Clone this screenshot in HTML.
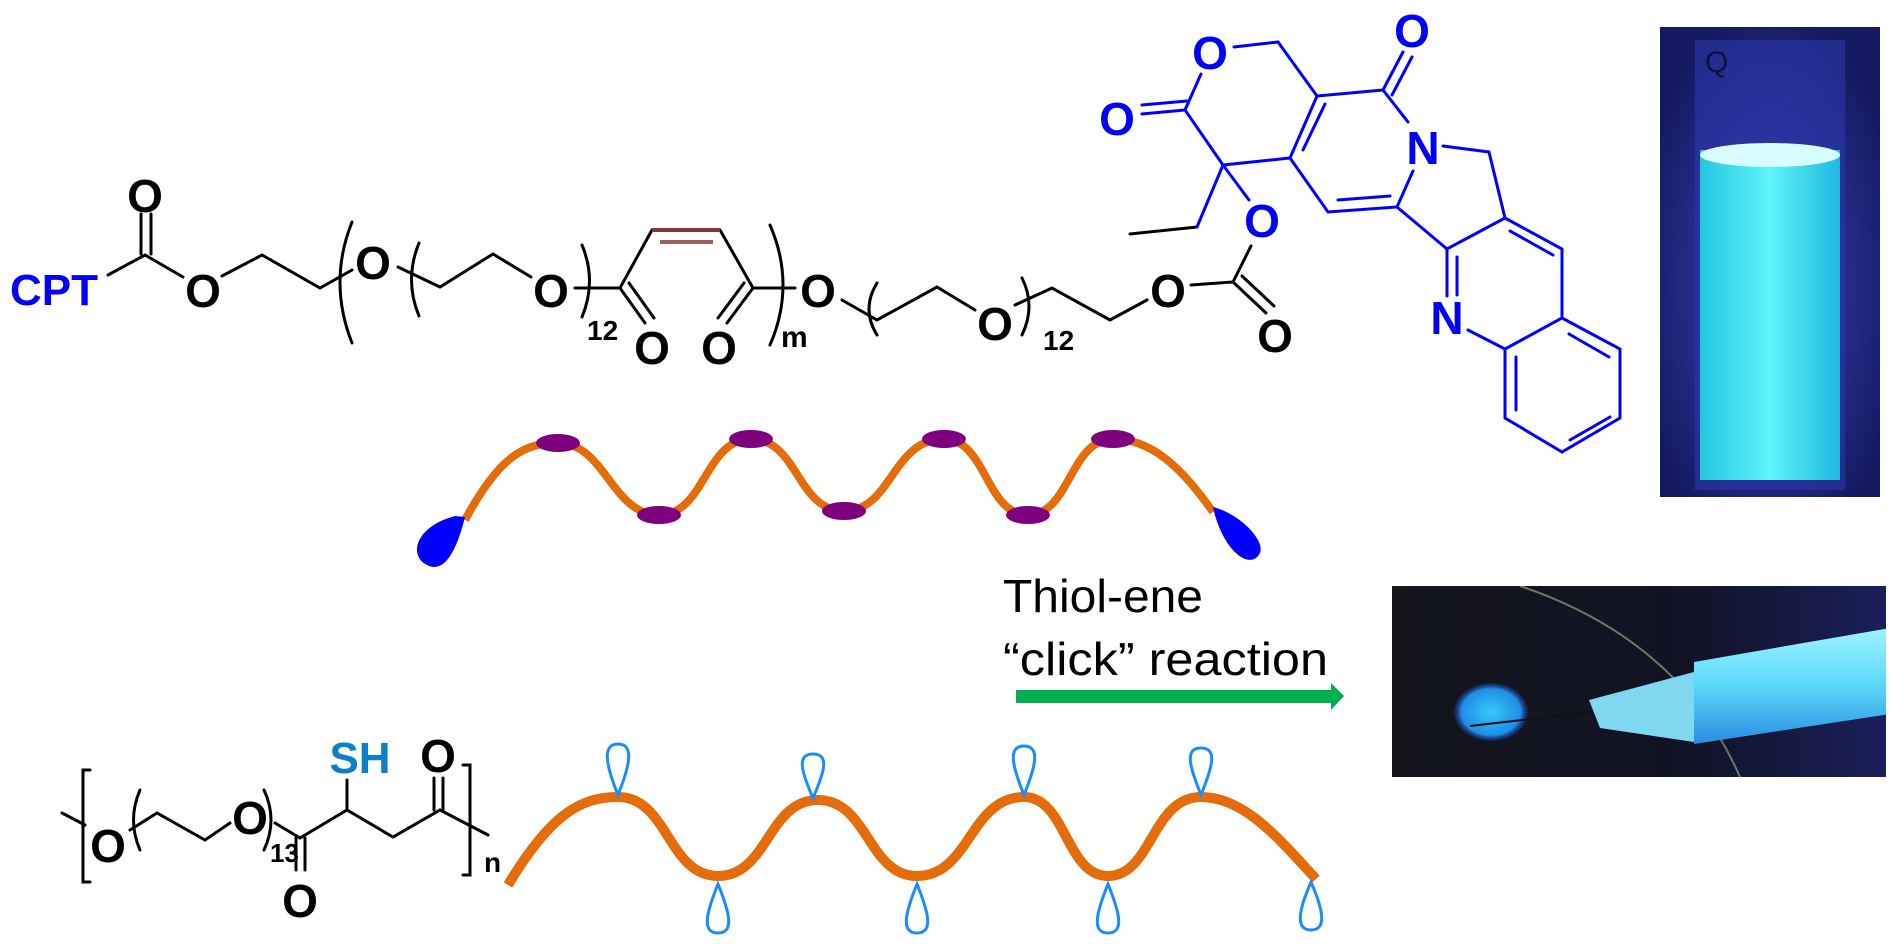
<!DOCTYPE html>
<html><head><meta charset="utf-8"><style>
html,body{margin:0;padding:0;background:#fff;}
svg{display:block}
text{font-family:"Liberation Sans",Arial,sans-serif;}
.b{font-weight:bold}
</style></head><body>
<svg width="1890" height="944" viewBox="0 0 1890 944" xmlns="http://www.w3.org/2000/svg">
<defs>
<radialGradient id="cuv" cx="50%" cy="55%" r="60%"><stop offset="0" stop-color="#3a46c8"/><stop offset="1" stop-color="#141a60"/></radialGradient>
<linearGradient id="liq" x1="0" y1="0" x2="1" y2="0"><stop offset="0" stop-color="#22c8e0"/><stop offset="0.5" stop-color="#5ff4f8"/><stop offset="1" stop-color="#20b8e0"/></linearGradient>
<linearGradient id="ph2" x1="0" y1="0" x2="1" y2="0"><stop offset="0" stop-color="#15161c"/><stop offset="0.6" stop-color="#111326"/><stop offset="1" stop-color="#1a1f5c"/></linearGradient>
<radialGradient id="spot" cx="50%" cy="50%" r="50%"><stop offset="0" stop-color="#38c8f8"/><stop offset="0.8" stop-color="#1e8ee8"/><stop offset="1" stop-color="#1a3aa0" stop-opacity="0.3"/></radialGradient>
<linearGradient id="syr" x1="0" y1="0" x2="0" y2="1"><stop offset="0" stop-color="#9ef4ff"/><stop offset="0.5" stop-color="#5ad8f8"/><stop offset="1" stop-color="#2a8ce0"/></linearGradient>
<clipPath id="pc"><rect x="1392" y="586" width="494" height="191"/></clipPath>
</defs>

<!-- ===== top chain ===== -->
<g stroke="#000" stroke-width="3" fill="none" stroke-linecap="round">
<path d="M108,275 L145,255 L183,277"/>
<path d="M141,254 L141,214 M151,254 L151,214"/>
<path d="M222,276 L262,255 L320,288 L352,270"/>
<path d="M352,222 Q328,282 352,343"/>
<path d="M419,243 Q404,280 419,316"/>
<path d="M398,267 L440,287 L493,254 L531,277"/>
<path d="M582,245 Q597,281 582,317"/>
<path d="M575,288 L620,288 L652,230"/>
<path d="M620,288 L645,323 M629,283 L654,318"/>
<path d="M720,230 L753,288 L795,288"/>
<path d="M753,288 L727,323 M744,283 L718,318"/>
<path d="M770,225 Q796,285 770,345"/>
<path d="M842,300 L877,320 L937,287 L975,310"/>
<path d="M877,283 Q861,309 877,335"/>
<path d="M1022,278 Q1036,306 1022,335"/>
<path d="M1015,305 L1052,288 L1110,320 L1147,300"/>
<path d="M1191,285 L1233,282 L1251,246"/>
<path d="M1233,282 L1266,313 M1242,276 L1274,306"/>
<path d="M1197,227 L1130,234"/>
</g>
<path d="M652,230 L720,230" stroke="#7f3838" stroke-width="4"/>
<path d="M660,242 L713,242" stroke="#a06060" stroke-width="4"/>
<g class="b" font-size="46" text-anchor="middle" fill="#000">
<text x="145" y="212">O</text>
<text x="203" y="307">O</text>
<text x="373" y="279">O</text>
<text x="551" y="307">O</text>
<text x="652" y="364">O</text>
<text x="719" y="364">O</text>
<text x="818" y="307">O</text>
<text x="995" y="340">O</text>
<text x="1168" y="307">O</text>
<text x="1275" y="352">O</text>
</g>
<text x="10" y="305" class="b" font-size="44" fill="#0000ff">CPT</text>
<text x="587" y="340" class="b" font-size="28">12</text>
<text x="1043" y="350" class="b" font-size="28">12</text>
<text x="781" y="347" class="b" font-size="30">m</text>

<!-- ===== CPT blue ===== -->
<g stroke="#0000ff" stroke-width="3" fill="none" stroke-linecap="round">
<path d="M1234,47 L1278,42 L1317,96"/>
<path d="M1201,74 L1185,110 L1223,165 L1290,158 L1317,96 L1383,90"/>
<path d="M1303,150 L1325,104"/>
<path d="M1185,110 L1142,114 M1187,101 L1142,105"/>
<path d="M1223,165 L1249,200"/>
<path d="M1223,165 L1197,227"/>
<path d="M1383,90 L1403,52 M1392,95 L1412,57"/>
<path d="M1383,90 L1408,122"/>
<path d="M1443,146 L1489,152 L1505,218"/>
<path d="M1413,171 L1397,207 L1328,212 L1290,158"/>
<path d="M1338,200 L1390,196"/>
<path d="M1397,207 L1447,249 L1505,218 L1562,249 L1562,318 L1505,349 L1505,418 L1562,452 L1620,418 L1620,349 L1562,318"/>
<path d="M1447,249 L1447,296 M1457,257 L1457,295"/>
<path d="M1468,330 L1505,349"/>
<path d="M1510,231 L1553,255"/>
<path d="M1516,357 L1516,410"/>
<path d="M1570,440 L1610,417"/>
<path d="M1609,357 L1569,334"/>
</g>
<g class="b" font-size="46" text-anchor="middle" fill="#0000ff">
<text x="1210" y="69">O</text>
<text x="1117" y="135">O</text>
<text x="1262" y="237">O</text>
<text x="1412" y="47">O</text>
<text x="1423" y="164">N</text>
<text x="1447" y="334">N</text>
</g>

<!-- ===== cuvette photo ===== -->
<rect x="1660" y="27" width="220" height="470" fill="url(#cuv)"/>
<rect x="1695" y="40" width="150" height="450" fill="#2b37a8" opacity="0.6"/>
<rect x="1700" y="150" width="140" height="330" fill="url(#liq)"/>
<ellipse cx="1770" cy="155" rx="70" ry="12" fill="#d8fcff"/>
<text x="1705" y="72" font-size="30" fill="#0c1240">Q</text>

<!-- ===== top wave ===== -->
<path d="M465,520 C500,455 525,443 558,443 C605,443 612,515 659,515 C705,515 705,439 751,439 C798,439 797,511 844,511 C892,511 892,439 944,439 C986,439 986,515 1028,515 C1070,515 1070,439 1113,439 C1150,439 1180,465 1213,512" stroke="#e46c0a" stroke-width="8" fill="none"/>
<g fill="#7f007f">
<ellipse cx="558" cy="443" rx="22" ry="9"/><ellipse cx="659" cy="515" rx="22" ry="9"/>
<ellipse cx="751" cy="439" rx="22" ry="9"/><ellipse cx="844" cy="511" rx="22" ry="9"/>
<ellipse cx="944" cy="439" rx="22" ry="9"/><ellipse cx="1028" cy="515" rx="22" ry="9"/>
<ellipse cx="1113" cy="439" rx="22" ry="9"/>
</g>
<path d="M465,517 C458,545 448,568 433,567 C408,562 410,528 455,516 Z" fill="#0000ff"/>
<path d="M1213,507 C1240,514 1265,540 1260,553 C1250,572 1222,550 1213,507 Z" fill="#0000ff"/>

<!-- ===== reaction text & arrow ===== -->
<text x="1003" y="612" font-size="46" textLength="200" lengthAdjust="spacingAndGlyphs" fill="#000">Thiol-ene</text>
<text x="1003" y="675" font-size="46" textLength="325" lengthAdjust="spacingAndGlyphs" fill="#000">“click” reaction</text>
<path d="M1016,690 L1331,690 L1331,683 L1344,696 L1331,710 L1331,703 L1016,703 Z" fill="#00b050"/>

<!-- ===== syringe photo ===== -->
<rect x="1392" y="586" width="494" height="191" fill="url(#ph2)"/>
<g clip-path="url(#pc)">
<path d="M1520,586 Q1680,640 1740,777" stroke="#6a7a60" stroke-width="2" fill="none"/>
<ellipse cx="1491" cy="712" rx="37" ry="29" fill="url(#spot)"/>
<path d="M1470,726 L1592,712" stroke="#111" stroke-width="2"/>
<path d="M1589,700 L1694,672 L1694,742 L1600,728 Z" fill="#7fd8f0"/>
<path d="M1694,662 L1890,628 L1890,714 L1694,744 Z" fill="url(#syr)"/>
</g>

<!-- ===== bottom structure ===== -->
<g stroke="#000" stroke-width="3" fill="none" stroke-linecap="round">
<path d="M62,813 L85,825"/>
<path d="M90,770 L83,770 L83,882 L90,882"/>
<path d="M140,790 Q127,820 140,850"/>
<path d="M130,830 L157,813 L205,840 L230,823"/>
<path d="M264,790 Q278,820 264,850"/>
<path d="M275,823 L300,838 L347,810 L393,837 L440,810 L488,835"/>
<path d="M296,838 L296,870 M305,838 L305,870"/>
<path d="M347,810 L347,780"/>
<path d="M434,810 L434,778 M443,810 L443,778"/>
<path d="M463,765 L470,765 L470,875 L463,875"/>
</g>
<g class="b" font-size="46" text-anchor="middle" fill="#000">
<text x="108" y="862">O</text>
<text x="250" y="834">O</text>
<text x="300" y="917">O</text>
<text x="438" y="772">O</text>
</g>
<text x="360" y="773" class="b" font-size="44" text-anchor="middle" fill="#0a80c8">SH</text>
<text x="270" y="862" class="b" font-size="26">13</text>
<text x="484" y="872" class="b" font-size="28">n</text>

<!-- ===== bottom wave ===== -->
<path d="M508,885 C550,815 580,797 618,797 C668,797 668,876 718,876 C768,876 768,800 818,800 C868,800 868,876 917,876 C970,876 970,797 1024,797 C1066,797 1066,876 1108,876 C1152,876 1152,797 1201,797 C1245,797 1280,840 1316,879" stroke="#e46c0a" stroke-width="10" fill="none"/>
<g stroke="#1a8cff" stroke-width="3" fill="none">
<path d="M618,795 C608,770 600,744 618,744 C636,744 628,770 618,795 Z"/>
<path d="M813,798 C803,775 795,754 813,754 C831,754 823,775 813,798 Z"/>
<path d="M1024,795 C1014,770 1006,746 1024,746 C1042,746 1034,770 1024,795 Z"/>
<path d="M1201,795 C1191,770 1183,748 1201,748 C1219,748 1211,770 1201,795 Z"/>
<path d="M718,884 C708,909 700,933 718,933 C736,933 728,909 718,884 Z"/>
<path d="M917,884 C907,909 899,933 917,933 C935,933 927,909 917,884 Z"/>
<path d="M1108,884 C1098,909 1090,933 1108,933 C1126,933 1118,909 1108,884 Z"/>
<path d="M1311,882 C1301,905 1293,930 1311,930 C1329,930 1321,905 1311,882 Z"/>
</g>
</svg>
</body></html>
